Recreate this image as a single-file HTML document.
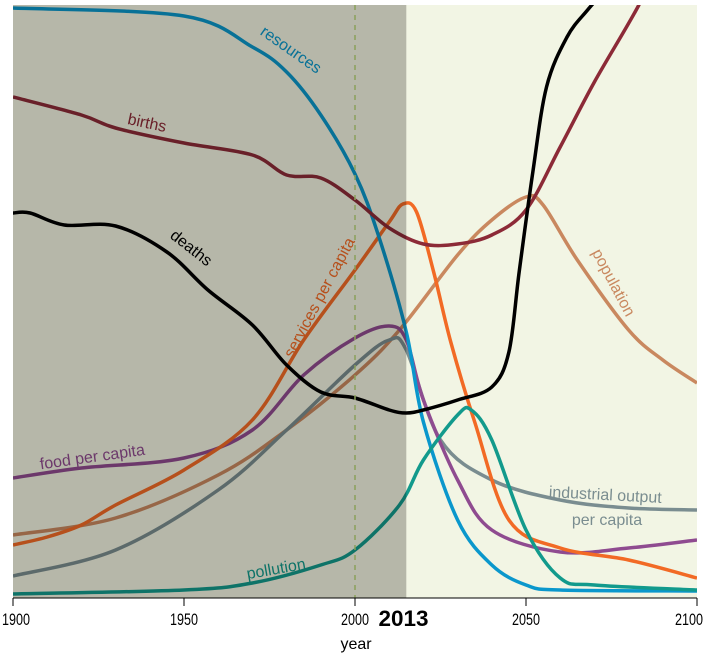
<!DOCTYPE html>
<html><head><meta charset="utf-8"><style>
body{margin:0;background:#fff;font-family:"Liberation Sans",sans-serif}
svg{display:block}
</style></head><body>
<svg id="chart" width="705" height="654">
<defs><clipPath id="clip"><rect x="13" y="5" width="684" height="593"/></clipPath></defs>
<rect x="13" y="5" width="684" height="593" fill="#f2f5e4"/>
<g id="lines" clip-path="url(#clip)"></g>
<g id="labels"></g>
<rect id="past" x="13" y="5" height="593" fill="rgb(192,191,189)" style="mix-blend-mode:multiply"/>
<line id="y2000" y1="5" y2="598" stroke="#8aa05a" stroke-width="1.5" stroke-dasharray="5,5"/>
<g id="axis"></g>
</svg>
<script>
const years = [1900,1950,2000,2050,2100];
const resources = [[1900,584],[1950,576],[1970,545],[1980,520],[1990,477],[2000,418],[2007,355],[2015,260],[2020,170],[2030,72],[2040,27],[2050,7],[2060,2],[2100,1]];
const births = [[1900,495],[1920,477],[1930,464],[1950,449],[1970,437],[1980,417],[1990,414],[2000,392],[2010,364],[2020,348],[2030,348],[2040,357],[2050,382],[2060,445],[2070,510],[2083,587],[2090,640]];
const deaths = [[1900,379],[1905,379],[1915,367],[1930,366],[1945,340],[1957,302],[1970,267],[1980,227],[1990,200],[2000,194],[2010,182],[2015,179],[2020,182],[2030,192],[2040,205],[2045,240],[2048,320],[2052,420],[2056,505],[2062,555],[2068,582],[2074,605]];
const services = [[1900,47],[1910,55],[1920,67],[1930,87],[1950,122],[1970,172],[1985,252],[2000,322],[2010,370],[2014,388],[2018,380],[2023,320],[2028,250],[2035,170],[2045,72],[2060,44],[2080,32],[2100,14]];
const population = [[1900,57],[1930,74],[1960,117],[1980,162],[2000,217],[2013,262],[2030,337],[2040,372],[2050,395],[2055,387],[2065,332],[2080,262],[2090,232],[2100,209]];
const food = [[1900,114],[1920,124],[1950,134],[1970,162],[1985,217],[2000,254],[2010,266],[2015,252],[2020,192],[2030,112],[2040,62],[2060,40],[2080,44],[2100,52]];
const industry = [[1900,16],[1930,42],[1960,102],[1980,162],[2000,227],[2010,252],[2015,242],[2025,152],[2040,112],[2060,92],[2080,84],[2100,82]];
const pollution = [[1900,-2],[1950,2],[1970,9],[1990,27],[2000,42],[2013,87],[2020,132],[2030,177],[2034,182],[2040,152],[2050,62],[2060,14],[2070,7],[2100,2]];

const X = y => 13 + (y-1900)*684/200;
const Y = v => 592 - v;
const NS="http://www.w3.org/2000/svg";
function path(pts){
  const p=pts.map(d=>[X(d[0]),Y(d[1])]);
  let s="M"+p[0][0]+","+p[0][1];
  for(let i=0;i<p.length-1;i++){
    const p0=p[i-1]||p[i],p1=p[i],p2=p[i+1],p3=p[i+2]||p2;
    const c1=[p1[0]+(p2[0]-p0[0])/6,p1[1]+(p2[1]-p0[1])/6];
    const c2=[p2[0]-(p3[0]-p1[0])/6,p2[1]-(p3[1]-p1[1])/6];
    s+=`C${c1[0]},${c1[1]} ${c2[0]},${c2[1]} ${p2[0]},${p2[1]}`;
  }
  return s;
}
const G=document.getElementById('lines');
function line(data,color,name){
  const e=document.createElementNS(NS,'path');
  e.setAttribute('d',path(data));e.setAttribute('fill','none');
  e.setAttribute('stroke',color);e.setAttribute('stroke-width','3.5');
  
  
  G.appendChild(e);
}
line(population,'#c9885f','population-line');
line(industry,'#7a8d90','industrial-output-line');
line(food,'#8f4b90','food-per-capita-line');
line(services,'#f26a25','services-per-capita-line');
line(resources,'#0a97cc','resources-line');
line(births,'#8c2a37','births-line');
line(pollution,'#129a8c','pollution-line');
line(deaths,'#000','deaths-line');

const L=document.getElementById('labels');
function label(t,x,y,r,c,name){
  const e=document.createElementNS(NS,'text');
  e.setAttribute('x',x);e.setAttribute('y',y);e.setAttribute('fill',c);
  e.setAttribute('font-size','16');e.setAttribute('text-anchor','middle');
  e.setAttribute('transform',`rotate(${r} ${x} ${y})`);
  e.textContent=t;
  
  
  L.appendChild(e);
}
label('resources',288,54,35,'#0a97cc','resources-label');
label('births',146,128,12,'#8c2a37','births-label');
label('deaths',188,252,38,'#000','deaths-label');
label('services per capita',324,300,-62,'#f26a25','services-label');
label('population',609,285,62,'#c9885f','population-label');
label('food per capita',93,462,-8,'#8f4b90','food-label');
label('industrial output',605,500,3,'#7a8d90','industrial-label');
label('per capita',607,525,0,'#7a8d90','industrial-label-2');
label('pollution',277,574,-10,'#129a8c','pollution-label');

document.getElementById('past').setAttribute('width',X(2015)-13);
const d2=document.getElementById('y2000');d2.setAttribute('x1',X(2000));d2.setAttribute('x2',X(2000));

const A=document.getElementById('axis');
const ax=document.createElementNS(NS,'line');
ax.setAttribute('x1',13);ax.setAttribute('x2',697);ax.setAttribute('y1',598);ax.setAttribute('y2',598);ax.setAttribute('stroke','#000');


A.appendChild(ax);
years.forEach(yr=>{
  const t=document.createElementNS(NS,'line');
  t.setAttribute('x1',X(yr));t.setAttribute('x2',X(yr));t.setAttribute('y1',598);t.setAttribute('y2',606);t.setAttribute('stroke','#000');
  
  
  A.appendChild(t);
  const s=document.createElementNS(NS,'text');
  s.setAttribute('x',Math.min(689,Math.max(16,X(yr))));s.setAttribute('y',625);s.setAttribute('font-size','17');s.setAttribute('text-anchor','middle');
  s.setAttribute('textLength','28');s.setAttribute('lengthAdjust','spacingAndGlyphs');
  s.textContent=yr;
  
  
  A.appendChild(s);
});
const b=document.createElementNS(NS,'text');
b.setAttribute('x',X(2013)+4);b.setAttribute('y',626);b.setAttribute('font-size','22');b.setAttribute('font-weight','bold');b.setAttribute('text-anchor','middle');
b.setAttribute('textLength','50');b.setAttribute('lengthAdjust','spacingAndGlyphs');
b.textContent='2013';


A.appendChild(b);
const yl=document.createElementNS(NS,'text');
yl.setAttribute('x',356);yl.setAttribute('y',649);yl.setAttribute('font-size','16');yl.setAttribute('text-anchor','middle');
yl.textContent='year';


A.appendChild(yl);
</script>
</body></html>
